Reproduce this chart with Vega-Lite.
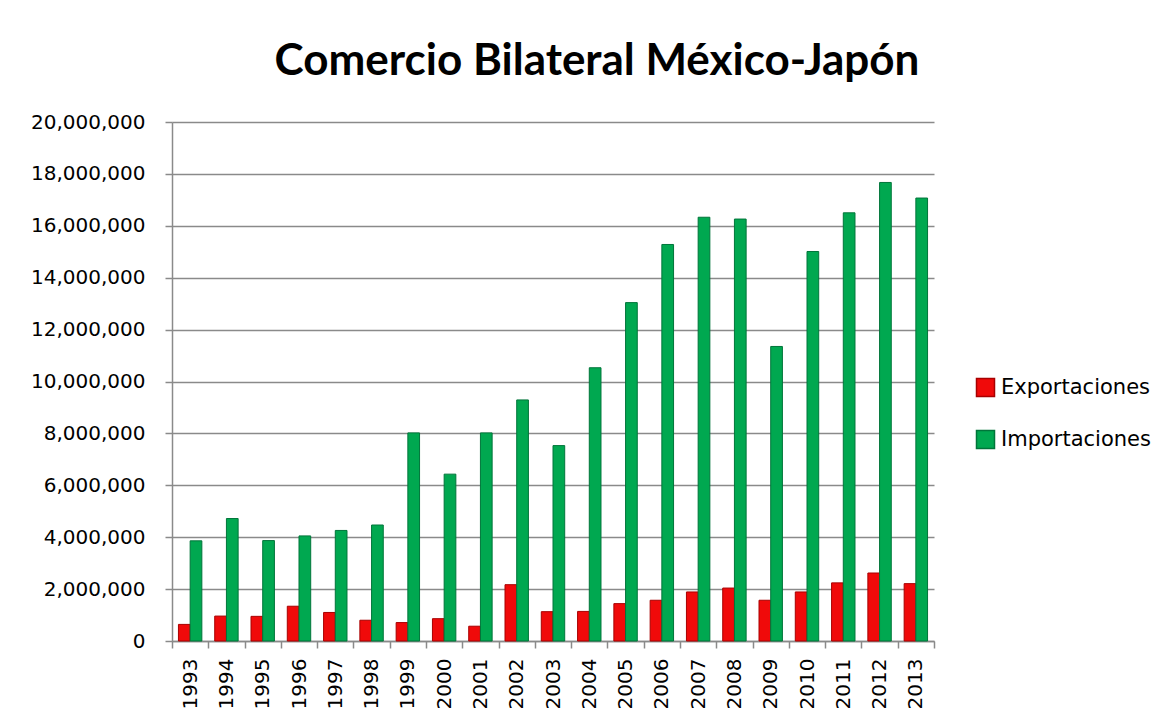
{
  "$schema": "https://vega.github.io/schema/vega-lite/v6.json",
  "width": 762,
  "height": 519,
  "autosize": "none",
  "padding": {"left": 172, "top": 122, "right": 242, "bottom": 82},
  "background": "white",
  "title": {
    "text": "Comercio Bilateral México-Japón",
    "font": "Lato",
    "fontSize": 44,
    "fontWeight": "bold",
    "color": "#000000",
    "anchor": "middle",
    "baseline": "alphabetic",
    "dx": 44,
    "offset": -7
  },
  "data": {
    "values": [
      {"anio": "1993", "serie": "Exportaciones", "valor": 640000},
      {"anio": "1994", "serie": "Exportaciones", "valor": 960000},
      {"anio": "1995", "serie": "Exportaciones", "valor": 950000},
      {"anio": "1996", "serie": "Exportaciones", "valor": 1340000},
      {"anio": "1997", "serie": "Exportaciones", "valor": 1100000},
      {"anio": "1998", "serie": "Exportaciones", "valor": 800000},
      {"anio": "1999", "serie": "Exportaciones", "valor": 710000},
      {"anio": "2000", "serie": "Exportaciones", "valor": 860000},
      {"anio": "2001", "serie": "Exportaciones", "valor": 570000},
      {"anio": "2002", "serie": "Exportaciones", "valor": 2170000},
      {"anio": "2003", "serie": "Exportaciones", "valor": 1130000},
      {"anio": "2004", "serie": "Exportaciones", "valor": 1140000},
      {"anio": "2005", "serie": "Exportaciones", "valor": 1440000},
      {"anio": "2006", "serie": "Exportaciones", "valor": 1570000},
      {"anio": "2007", "serie": "Exportaciones", "valor": 1890000},
      {"anio": "2008", "serie": "Exportaciones", "valor": 2040000},
      {"anio": "2009", "serie": "Exportaciones", "valor": 1570000},
      {"anio": "2010", "serie": "Exportaciones", "valor": 1890000},
      {"anio": "2011", "serie": "Exportaciones", "valor": 2240000},
      {"anio": "2012", "serie": "Exportaciones", "valor": 2620000},
      {"anio": "2013", "serie": "Exportaciones", "valor": 2210000},
      {"anio": "1993", "serie": "Importaciones", "valor": 3860000},
      {"anio": "1994", "serie": "Importaciones", "valor": 4720000},
      {"anio": "1995", "serie": "Importaciones", "valor": 3870000},
      {"anio": "1996", "serie": "Importaciones", "valor": 4050000},
      {"anio": "1997", "serie": "Importaciones", "valor": 4260000},
      {"anio": "1998", "serie": "Importaciones", "valor": 4470000},
      {"anio": "1999", "serie": "Importaciones", "valor": 8020000},
      {"anio": "2000", "serie": "Importaciones", "valor": 6430000},
      {"anio": "2001", "serie": "Importaciones", "valor": 8020000},
      {"anio": "2002", "serie": "Importaciones", "valor": 9290000},
      {"anio": "2003", "serie": "Importaciones", "valor": 7530000},
      {"anio": "2004", "serie": "Importaciones", "valor": 10530000},
      {"anio": "2005", "serie": "Importaciones", "valor": 13040000},
      {"anio": "2006", "serie": "Importaciones", "valor": 15280000},
      {"anio": "2007", "serie": "Importaciones", "valor": 16330000},
      {"anio": "2008", "serie": "Importaciones", "valor": 16260000},
      {"anio": "2009", "serie": "Importaciones", "valor": 11350000},
      {"anio": "2010", "serie": "Importaciones", "valor": 15010000},
      {"anio": "2011", "serie": "Importaciones", "valor": 16500000},
      {"anio": "2012", "serie": "Importaciones", "valor": 17670000},
      {"anio": "2013", "serie": "Importaciones", "valor": 17070000}
    ]
  },
  "mark": {"type": "bar", "strokeWidth": 1},
  "encoding": {
    "x": {
      "field": "anio",
      "type": "nominal",
      "scale": {"paddingInner": 0, "paddingOuter": 0},
      "axis": {
        "title": null,
        "labelAngle": -90,
        "labelFont": "DejaVu Sans",
        "labelFontSize": 20,
        "labelColor": "#000000",
        "labelPadding": 10,
        "tickBand": "extent",
        "tickSize": 7,
        "tickColor": "#8a8a8a",
        "tickWidth": 1.5,
        "domainColor": "#8a8a8a",
        "domainWidth": 1.5,
        "grid": false
      }
    },
    "xOffset": {
      "field": "serie",
      "type": "nominal",
      "sort": ["Exportaciones", "Importaciones"],
      "scale": {"paddingInner": 0, "paddingOuter": 0.55}
    },
    "y": {
      "field": "valor",
      "type": "quantitative",
      "scale": {"domain": [0, 20000000], "nice": false},
      "axis": {
        "title": null,
        "values": [0, 2000000, 4000000, 6000000, 8000000, 10000000, 12000000, 14000000, 16000000, 18000000, 20000000],
        "format": ",d",
        "labelFont": "DejaVu Sans",
        "labelFontSize": 20,
        "labelColor": "#000000",
        "labelPadding": 20,
        "tickSize": 7,
        "tickColor": "#8a8a8a",
        "tickWidth": 1.5,
        "domainColor": "#8a8a8a",
        "domainWidth": 1.5,
        "grid": true,
        "gridColor": "#8a8a8a",
        "gridWidth": 1.5
      }
    },
    "color": {
      "field": "serie",
      "type": "nominal",
      "scale": {"domain": ["Exportaciones", "Importaciones"], "range": ["#f00a0a", "#00a850"]},
      "legend": {
        "title": null,
        "orient": "none",
        "legendX": 803,
        "legendY": 255,
        "padding": 0,
        "symbolType": "square",
        "symbolSize": 324,
        "labelFont": "DejaVu Sans",
        "labelFontSize": 21,
        "labelColor": "#000000",
        "labelOffset": 5,
        "rowPadding": 27
      }
    },
    "stroke": {
      "field": "serie",
      "type": "nominal",
      "scale": {"domain": ["Exportaciones", "Importaciones"], "range": ["#a80000", "#00753a"]},
      "legend": null
    }
  },
  "config": {"view": {"stroke": null}}
}
